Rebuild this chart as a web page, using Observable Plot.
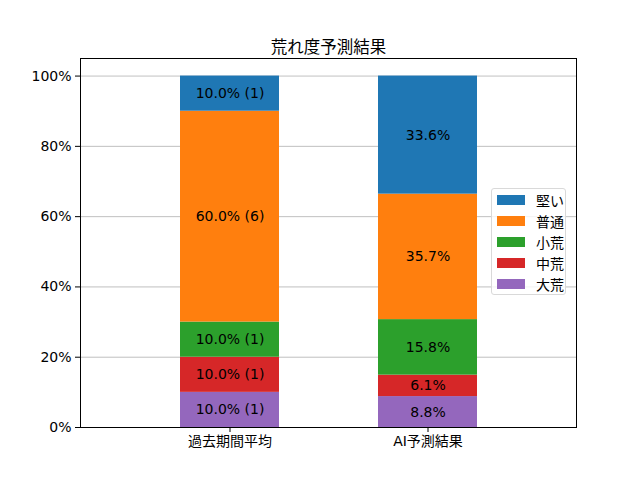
<!DOCTYPE html>
<html>
<head>
<meta charset="utf-8">
<script src="https://cdn.jsdelivr.net/npm/d3@7"></script>
<script src="https://cdn.jsdelivr.net/npm/@observablehq/plot@0.6"></script>
<style>
  body { margin: 0; background: #fff; }
  #wrap { position: relative; width: 640px; height: 480px; font-family: "DejaVu Sans", "Noto Sans CJK JP", sans-serif; }
  #legend { position: absolute; left: 491px; top: 188px; width: 75px; height: 107px; border: 1px solid #d9d9d9; border-radius: 3px; background: rgba(255,255,255,0.8); box-sizing: border-box; padding: 0 0 0 5px; }
  .row { display: flex; align-items: center; height: 21.2px; font-size: 14px; color: #000; white-space: nowrap; }
  .sw { width: 28px; height: 10px; margin-right: 11px; flex: none; }
</style>
</head>
<body>
<div id="wrap"></div>
<script>
const categories = ["過去期間平均", "AI予測結果"];
const levels = ["大荒", "中荒", "小荒", "普通", "堅い"]; // bottom to top
const colors = ["#9467bd", "#d62728", "#2ca02c", "#ff7f0e", "#1f77b4"];
const pastValues = [10.0, 10.0, 10.0, 60.0, 10.0];
const pastCounts = [1, 1, 1, 6, 1];
const aiValues = [8.8, 6.1, 15.8, 35.7, 33.6];
const yTicks = [0, 20, 40, 60, 80, 100];
const title = "荒れ度予測結果";

const rows = [];
levels.forEach((lv, i) => rows.push({cat: categories[0], level: lv, value: pastValues[i], label: `${pastValues[i].toFixed(1)}% (${pastCounts[i]})`}));
levels.forEach((lv, i) => rows.push({cat: categories[1], level: lv, value: aiValues[i], label: `${aiValues[i].toFixed(1)}%`}));

const font = '"DejaVu Sans", "Noto Sans CJK JP", sans-serif';
const chart = Plot.plot({
  width: 640, height: 480,
  marginLeft: 80, marginRight: 64, marginTop: 58, marginBottom: 53,
  style: {fontFamily: font, fontSize: "14px", background: "#fff", color: "#000"},
  x: {domain: categories, paddingInner: 0.5, paddingOuter: 0.5, label: null, tickSize: 5, tickPadding: 4},
  y: {domain: [0, 105], ticks: yTicks, tickFormat: d => d + "%", label: null, tickSize: 5, tickPadding: 4},
  color: {domain: levels, range: colors},
  marks: [
    Plot.gridY(yTicks, {stroke: "#b0b0b0", strokeOpacity: 1, strokeWidth: 0.8}),
    Plot.barY(rows, {x: "cat", y: "value", fill: "level", order: null}),
    Plot.text(rows, Plot.stackY({x: "cat", y: "value", text: "label", order: null, fill: "#000", fontSize: 14})),
    Plot.frame({stroke: "#000", strokeWidth: 1}),
    Plot.text([title], {frameAnchor: "top", dy: -17, text: d => d, fontSize: 16.5, fill: "#000"})
  ]
});
const wrap = document.getElementById("wrap");
wrap.appendChild(chart);

const legend = document.createElement("div");
legend.id = "legend";
levels.slice().reverse().forEach(lv => {
  const r = document.createElement("div");
  r.className = "row";
  const sw = document.createElement("div");
  sw.className = "sw";
  sw.style.background = colors[levels.indexOf(lv)];
  const t = document.createElement("span");
  t.textContent = lv;
  r.appendChild(sw); r.appendChild(t);
  legend.appendChild(r);
});
wrap.appendChild(legend);
</script>
</body>
</html>
